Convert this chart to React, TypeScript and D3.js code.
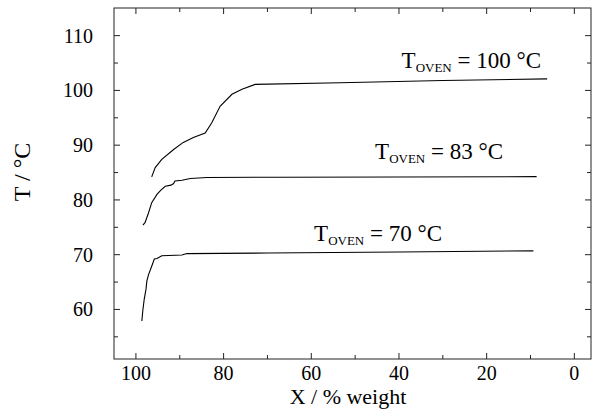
import { useEffect, useRef } from "react";
import * as d3 from "d3";

// curve readings, X in % weight, T in °C
const x100 = [96.4, 95.6, 94.1, 91.4, 89.2, 86.9, 84.2, 82.7, 80.8, 78.1, 75.8, 72.8, 53.4, 30, 6.2];
const t100 = [84.2, 85.9, 87.4, 89.2, 90.5, 91.4, 92.2, 94.1, 97.1, 99.3, 100.2, 101.1, 101.4, 101.8, 102.1];

const x83 = [98.4, 97.9, 97.1, 96.4, 95.2, 94.3, 93.3, 92.0, 91.4, 91.1, 89.5, 87.6, 83.8, 67.1, 40, 8.6];
const t83 = [75.4, 75.9, 77.7, 79.5, 81.0, 81.8, 82.5, 82.7, 83.0, 83.45, 83.6, 83.9, 84.1, 84.15, 84.2, 84.25];

const x70 = [98.65, 98.4, 98.1, 97.7, 97.5, 97.1, 96.4, 95.8, 95.2, 94.1, 89.5, 88.4, 70, 40, 9.35];
const t70 = [57.9, 60.0, 61.9, 63.7, 65.2, 66.4, 67.9, 69.2, 69.3, 69.8, 69.95, 70.2, 70.3, 70.5, 70.7];

const series = [
  { xs: x100, ts: t100, label: "100", lx: 541, ly: 68 },
  { xs: x83, ts: t83, label: "83", lx: 503, ly: 159 },
  { xs: x70, ts: t70, label: "70", lx: 442, ly: 241 },
];

const xTicks = [100, 80, 60, 40, 20, 0];
const xMinor = [90, 70, 50, 30, 10];
const yTicks = [60, 70, 80, 90, 100, 110];
const yMinor = [55, 65, 75, 85, 95, 105];

export default function App() {
  const ref = useRef<SVGSVGElement>(null);

  useEffect(() => {
    const el = ref.current;
    if (!el) return;
    const W = 597, H = 412, M = { top: 8, right: 6, bottom: 53, left: 114 };
    const svg = d3.select(el).attr("width", W).attr("height", H);
    svg.selectAll("*").remove();
    const font = "'Liberation Serif', 'Times New Roman', serif";

    const x = d3.scaleLinear().domain([105, -3.8]).range([M.left, W - M.right]);
    const y = d3.scaleLinear().domain([50.95, 115.05]).range([H - M.bottom, M.top]);
    const [x0, x1] = x.range();
    const [y0, y1] = y.range();

    const frame = svg.append("g").attr("stroke", "#222").attr("stroke-width", 1).attr("fill", "none");
    frame.append("rect").attr("x", x0).attr("y", y1).attr("width", x1 - x0).attr("height", y0 - y1);

    const tick = (v: number, len: number) => {
      frame.append("line").attr("x1", x(v)).attr("x2", x(v)).attr("y1", y0).attr("y2", y0 - len);
      frame.append("line").attr("x1", x(v)).attr("x2", x(v)).attr("y1", y1).attr("y2", y1 + len);
    };
    const ytick = (v: number, len: number) => {
      frame.append("line").attr("y1", y(v)).attr("y2", y(v)).attr("x1", x0).attr("x2", x0 + len);
      frame.append("line").attr("y1", y(v)).attr("y2", y(v)).attr("x1", x1).attr("x2", x1 - len);
    };
    xTicks.forEach((v) => tick(v, 6));
    xMinor.forEach((v) => tick(v, 4));
    yTicks.forEach((v) => ytick(v, 6));
    yMinor.forEach((v) => ytick(v, 4));

    svg.append("g").selectAll("text").data(xTicks).join("text")
      .attr("x", (d) => x(d)).attr("y", y0 + 21).attr("text-anchor", "middle")
      .attr("font-family", font).attr("font-size", 20).attr("fill", "#000").text((d) => d);

    svg.append("g").selectAll("text").data(yTicks).join("text")
      .attr("x", x0 - 21).attr("y", (d) => y(d) + 7).attr("text-anchor", "end")
      .attr("font-family", font).attr("font-size", 20).attr("fill", "#000").text((d) => d);

    svg.append("text").attr("x", 348).attr("y", 404).attr("text-anchor", "middle")
      .attr("font-family", font).attr("font-size", 22).text("X / % weight");
    svg.append("text").attr("transform", "translate(30,172) rotate(-90)").attr("text-anchor", "middle")
      .attr("font-family", font).attr("font-size", 24).text("T / °C");

    const line = d3.line<[number, number]>().x((d) => x(d[0])).y((d) => y(d[1]));
    series.forEach((s) => {
      const pts = s.xs.map((v, i) => [v, s.ts[i]] as [number, number]);
      svg.append("path").attr("d", line(pts)).attr("fill", "none").attr("stroke", "#000").attr("stroke-width", 1.1);
      const t = svg.append("text").attr("x", s.lx).attr("y", s.ly).attr("text-anchor", "end")
        .attr("font-family", font).attr("font-size", 23).attr("fill", "#000");
      t.append("tspan").text("T");
      t.append("tspan").attr("font-size", 13).attr("dy", 4).text("OVEN");
      t.append("tspan").attr("dy", -4).text(` = ${s.label} °C`);
    });
  }, []);

  return <svg ref={ref} style={{ position: "absolute", left: 0, top: 0 }} />;
}
